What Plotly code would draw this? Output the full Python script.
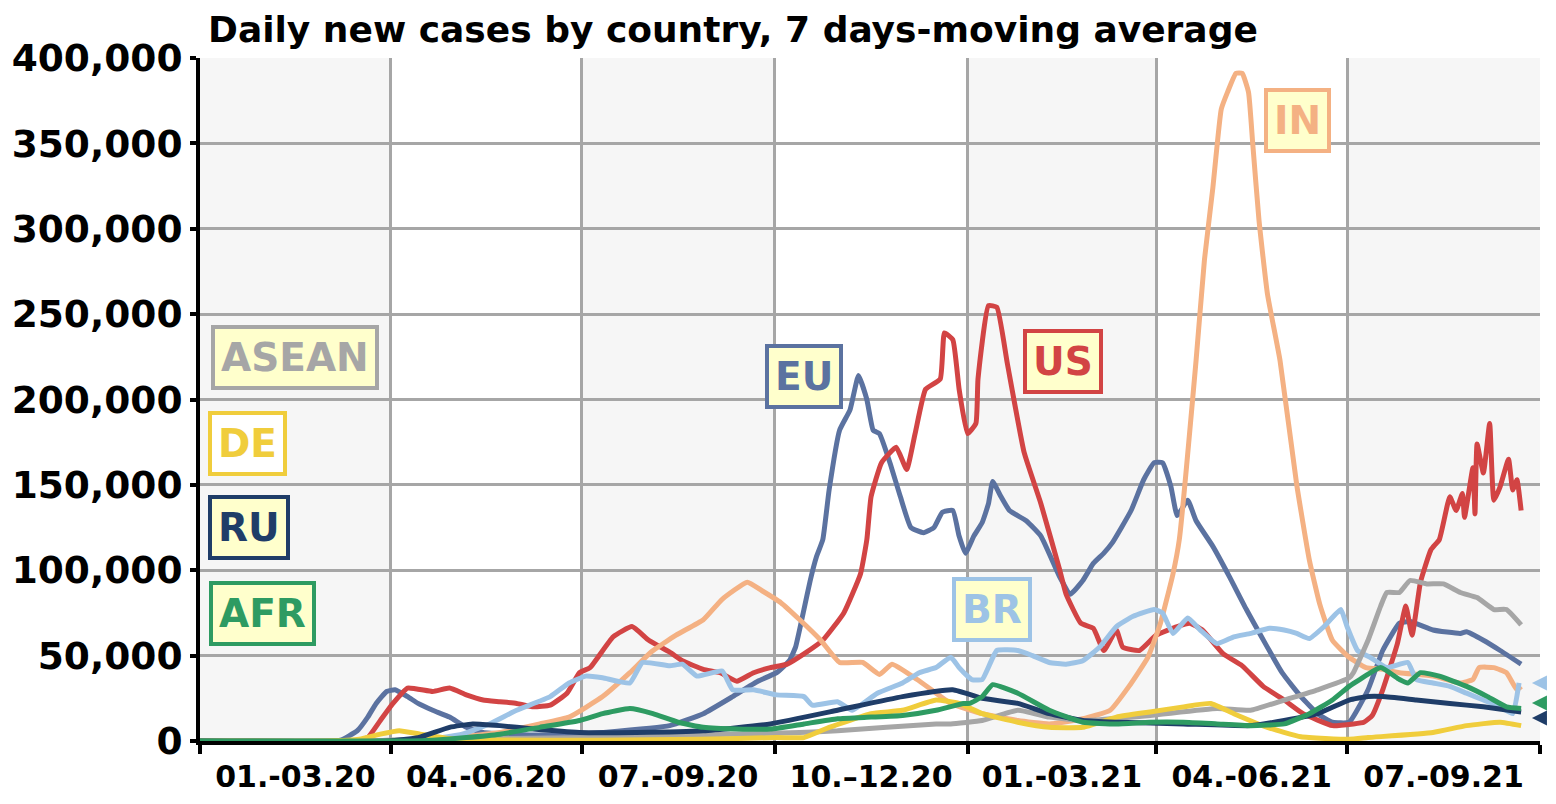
import pandas as pd
import plotly.graph_objects as go

START = pd.Timestamp("2020-01-01")

# ---- data: (day offset from 2020-01-01, value in thousands) ----
eu_days = [0, 60, 67, 75, 80, 84, 89, 93, 99, 104, 111, 119, 127, 135, 159, 181, 192, 224, 240, 254, 266, 275, 281, 284, 288, 291, 294, 297, 300, 305, 310, 314, 318, 321, 324, 329, 334, 339, 345, 350, 354, 359, 362, 365, 369, 373, 376, 378, 382, 386, 394, 401, 410, 415, 421, 426, 431, 435, 444, 450, 455, 459, 463, 466, 471, 475, 483, 491, 499, 516, 525, 533, 540, 548, 557, 564, 572, 577, 588, 601, 604, 612, 620, 630]
eu_vals = [0, 0, 0.5, 6, 14, 22, 29, 30, 26, 22, 18, 14, 8, 5, 3.5, 4, 5, 9, 16, 26, 35, 40, 47, 55, 77, 94, 108, 118, 147, 182, 194, 214, 200, 182, 180, 163, 143, 125, 122, 125, 134, 135, 120, 110, 120, 128, 139, 152, 143, 135, 129, 120, 96, 86, 94, 104, 110, 116, 135, 153, 163, 163, 149, 132, 141, 129, 114, 96, 77, 40, 26, 16, 11, 11, 30, 53, 69, 70, 65, 63, 64, 59, 53, 45]

us_days = [0, 75, 80, 86, 92, 99, 111, 119, 127, 135, 143, 151, 159, 167, 175, 181, 186, 197, 206, 214, 224, 230, 240, 248, 256, 264, 272, 280, 288, 297, 307, 315, 318, 320, 325, 332, 337, 341, 346, 353, 355, 359, 362, 366, 370, 371, 376, 380, 385, 393, 401, 410, 413, 420, 426, 431, 437, 440, 448, 456, 466, 472, 478, 488, 497, 507, 517, 526, 540, 550, 555, 559, 564, 571, 575, 578, 582, 587, 591, 596, 599, 602, 603, 607, 608, 609, 612, 615, 617, 620, 624, 626, 628, 630]
us_vals = [0, 0, 2, 12, 22, 31, 29, 31, 27, 24, 23, 22, 20, 21, 28, 40, 43, 61, 67, 59, 52, 47, 42, 40, 35, 40, 43, 45, 51, 59, 75, 98, 118, 143, 163, 172, 159, 180, 206, 212, 239, 235, 206, 180, 186, 212, 255, 254, 221, 169, 139, 100, 86, 69, 66, 53, 65, 55, 53, 62, 67, 69, 65, 51, 44, 32, 24, 16, 9, 10, 11, 15, 30, 57, 79, 62, 93, 112, 118, 143, 135, 145, 131, 160, 133, 174, 157, 186, 141, 149, 165, 147, 153, 135]

in_days = [0, 90, 100, 119, 143, 162, 176, 192, 205, 215, 227, 240, 249, 261, 268, 277, 286, 296, 305, 316, 324, 330, 342, 351, 358, 373, 390, 405, 421, 434, 443, 452, 458, 464, 467, 475, 479, 483, 487, 490, 494, 497, 500, 502, 505, 509, 515, 523, 529, 534, 540, 548, 556, 564, 572, 588, 601, 607, 610, 617, 623, 628, 630]
in_vals = [0, 0, 0.5, 2, 5, 10, 14, 26, 40, 52, 62, 71, 83, 93, 88, 81, 71, 59, 46, 46, 39, 45, 36, 28, 22, 16, 12, 10, 13, 18, 32, 49, 69, 98, 118, 223, 282, 324, 370, 380, 391, 391, 380, 350, 305, 262, 223, 150, 106, 80, 59, 49, 43, 42, 40, 38, 34, 36, 43, 43, 40, 30, 32]

br_days = [0, 100, 110, 125, 138, 151, 167, 176, 184, 192, 205, 211, 224, 230, 237, 249, 254, 264, 275, 288, 292, 304, 311, 323, 335, 343, 351, 358, 362, 366, 368, 373, 380, 390, 397, 405, 413, 421, 429, 437, 445, 455, 459, 464, 471, 477, 485, 493, 501, 510, 517, 523, 529, 536, 544, 547, 552, 558, 566, 576, 580, 588, 596, 604, 612, 620, 626, 629]
br_vals = [0, 0, 1, 4, 10, 18, 26, 34, 38, 37, 34, 46, 44, 45, 38, 41, 30, 30, 27, 26, 21, 23, 18, 28, 34, 40, 43, 49, 43, 38, 36, 36, 53, 53, 50, 46, 45, 47, 55, 67, 73, 77, 75, 63, 72, 65, 57, 61, 63, 66, 65, 63, 60, 67, 77, 67, 53, 49, 43, 46, 36, 34, 32, 28, 24, 20, 16, 34]

asean_days = [0, 80, 100, 143, 190, 238, 286, 304, 351, 358, 373, 390, 405, 421, 453, 485, 501, 517, 533, 548, 550, 557, 563, 566, 572, 577, 585, 593, 601, 609, 617, 623, 630]
asean_vals = [0, 0, 1, 1.5, 2, 3.5, 5, 6, 10, 10, 12, 18, 14, 12, 15, 19, 18, 24, 30, 37, 40, 59, 79, 87, 87, 94, 92, 92, 87, 84, 77, 77, 68]

de_days = [0, 60, 76, 86, 95, 105, 119, 143, 190, 238, 275, 288, 300, 320, 335, 351, 362, 373, 390, 405, 421, 437, 453, 469, 482, 493, 509, 525, 548, 557, 588, 604, 620, 630]
de_vals = [0, 0, 1, 4, 6, 4, 1.5, 0.6, 0.5, 1, 2, 2, 8, 16, 18, 24, 22, 16, 11, 8, 8, 14, 17, 20, 22, 16, 8, 2.5, 1, 2, 5, 9, 11, 9]

ru_days = [0, 90, 104, 119, 130, 143, 159, 181, 208, 240, 272, 304, 335, 359, 373, 390, 405, 421, 437, 469, 501, 517, 533, 548, 557, 564, 580, 596, 612, 630]
ru_vals = [0, 0, 2, 8, 10, 9, 7, 5, 5, 6, 10, 18, 26, 30, 25, 22, 16, 12, 11, 10, 9, 12, 16, 24, 26, 26, 24, 22, 20, 17]

afr_days = [0, 100, 111, 127, 143, 162, 181, 192, 205, 216, 228, 240, 256, 272, 288, 304, 320, 335, 351, 364, 367, 373, 378, 390, 405, 421, 437, 453, 469, 485, 501, 517, 529, 540, 548, 553, 563, 572, 576, 582, 591, 604, 614, 623, 630]
afr_vals = [0, 0, 0.5, 2, 4, 8, 12, 16, 19, 16, 11, 8, 7, 7, 10, 13, 14, 15, 18, 22, 22, 26, 33, 28, 18, 11, 10, 11, 11, 10, 9, 10, 16, 24, 32, 36, 43, 36, 34, 40, 38, 32, 26, 20, 19]

quarter_starts = ["2020-01-01", "2020-04-01", "2020-07-01", "2020-10-01",
                  "2021-01-01", "2021-04-01", "2021-07-01", "2021-10-01"]
quarter_labels = ["01.-03.20", "04.-06.20", "07.-09.20", "10.\u201312.20",
                  "01.-03.21", "04.-06.21", "07.-09.21"]
y_ticks = [0, 50000, 100000, 150000, 200000, 250000, 300000, 350000, 400000]

series = [
    ("EU", eu_days, eu_vals, "#5b72a0"),
    ("US", us_days, us_vals, "#d24444"),
    ("IN", in_days, in_vals, "#f4b183"),
    ("BR", br_days, br_vals, "#9dc3e6"),
    ("ASEAN", asean_days, asean_vals, "#a6a6a6"),
    ("DE", de_days, de_vals, "#f0cd3c"),
    ("RU", ru_days, ru_vals, "#1f3d68"),
    ("AFR", afr_days, afr_vals, "#2e9b62"),
]

FONT = "DejaVu Sans"

fig = go.Figure()
for name, d, v, c in series:
    x = START + pd.to_timedelta(d, unit="D")
    fig.add_trace(go.Scatter(x=x, y=[val * 1000 for val in v], mode="lines", name=name,
                             line=dict(color=c, width=5, shape="spline", smoothing=0.4),
                             showlegend=False, hoverinfo="skip"))

qs = pd.to_datetime(quarter_starts)
mids = [qs[i] + (qs[i + 1] - qs[i]) / 2 for i in range(len(qs) - 1)]

shapes = []
for i in range(0, len(qs) - 1, 2):
    shapes.append(dict(type="rect", xref="x", yref="paper", x0=qs[i], x1=qs[i + 1],
                       y0=0, y1=1, fillcolor="#f6f6f6", line=dict(width=0), layer="below"))

# label boxes: (text, color, x_paper, y_paper, bg)
labels = [
    ("ASEAN", "#a6a6a6", 0.0709, 0.562, "#ffffcc"),
    ("DE", "#f0cd3c", 0.0358, 0.436, "#ffffff"),
    ("RU", "#1f3d68", 0.0366, 0.312, "#ffffcc"),
    ("AFR", "#2e9b62", 0.0463, 0.187, "#ffffcc"),
    ("EU", "#5b72a0", 0.4507, 0.533, "#ffffcc"),
    ("US", "#d24444", 0.644, 0.556, "#ffffcc"),
    ("IN", "#f4b183", 0.8194, 0.909, "#ffffcc"),
    ("BR", "#9dc3e6", 0.591, 0.193, "#ffffcc"),
]
annotations = []
for t, c, xp, yp, bg in labels:
    annotations.append(dict(text=t, x=xp, y=yp, xref="paper", yref="paper",
                            showarrow=False, xanchor="center", yanchor="middle",
                            font=dict(family=FONT, size=39, color=c, weight="bold"),
                            bgcolor=bg, bordercolor=c, borderwidth=4, borderpad=6))

# right-edge arrows
for c, yp in [("#9dc3e6", 0.0849), ("#2e9b62", 0.0556), ("#1f3d68", 0.0337)]:
    annotations.append(dict(text="", x=0.994, y=yp, xref="paper", yref="paper",
                            showarrow=True, ax=26, ay=0, arrowhead=2, arrowsize=1,
                            arrowwidth=3, arrowcolor=c))

fig.update_layout(
    width=1540, height=788,
    margin=dict(l=192, r=8, t=50, b=55),
    paper_bgcolor="white", plot_bgcolor="white",
    title=dict(text="Daily new cases by country, 7 days-moving average",
               x=200 / 1540, xref="container", xanchor="left",
               y=1 - 21 / 788, yref="container", yanchor="middle",
               font=dict(family=FONT, size=36, color="black", weight="bold")),
    shapes=shapes,
    annotations=annotations,
    xaxis=dict(type="date", range=[qs[0], qs[-1]],
               tickmode="array", tickvals=mids, ticktext=quarter_labels,
               ticks="", showgrid=False, zeroline=False, automargin=False,
               ticklabelstandoff=6,
               showline=True, linecolor="black", linewidth=4,
               tickfont=dict(family=FONT, size=30, color="black", weight="bold"),
               minor=dict(dtick="M3", tick0="2020-01-01", ticks="outside", ticklen=9,
                          tickwidth=4, tickcolor="black", showgrid=True,
                          gridcolor="#a6a6a6", gridwidth=3)),
    yaxis=dict(range=[0, 400000], tickmode="array", tickvals=y_ticks,
               tickformat=",", ticks="outside", ticklen=6, tickwidth=4,
               tickcolor="black", showgrid=True, gridcolor="#a6a6a6", gridwidth=3,
               zeroline=False, showline=True, linecolor="black", linewidth=4,
               automargin=False,
               tickfont=dict(family=FONT, size=37.5, color="black", weight="bold")),
)

fig.write_html("out.html")
